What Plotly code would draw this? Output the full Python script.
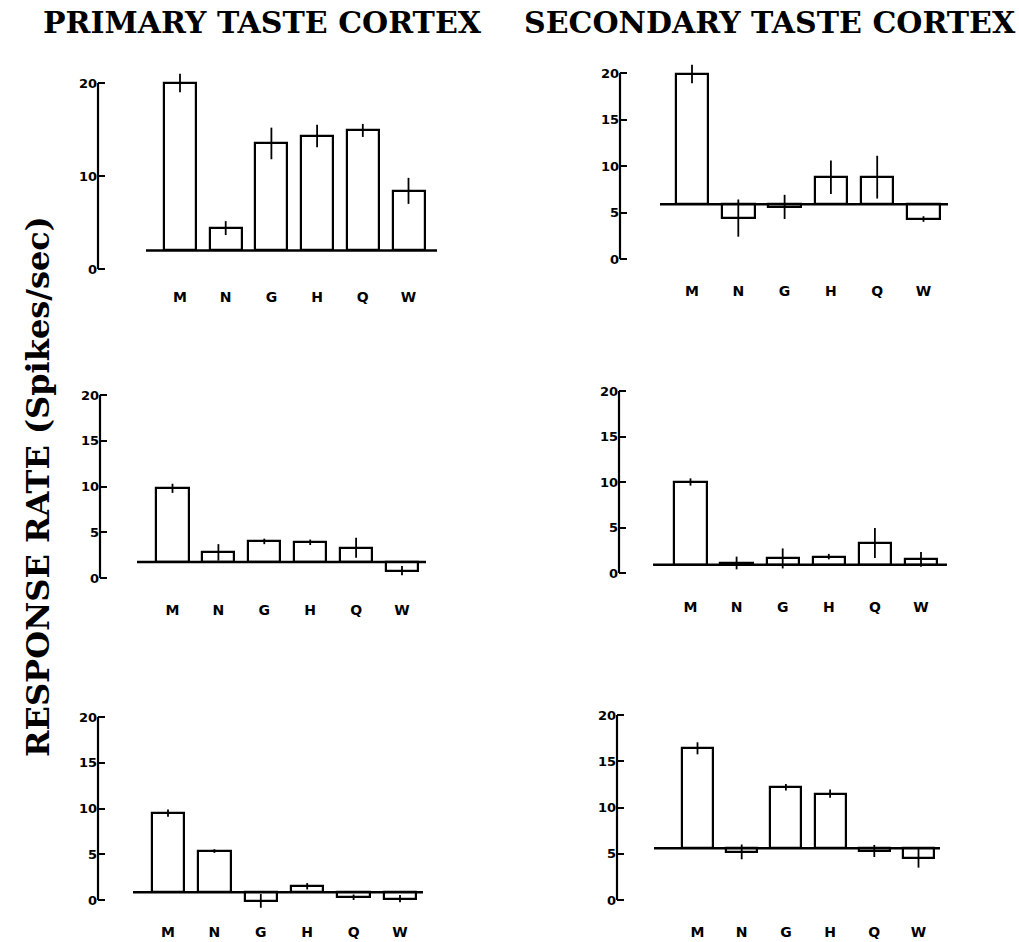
import plotly.graph_objects as go

# ---------------- data ----------------
categories = ["M", "N", "G", "H", "Q", "W"]

# Primary taste cortex (rows 1-3)
p1_baseline = 2.0
p1_values = [20.0, 4.4, 13.5, 14.3, 14.9, 8.4]
p1_errors = [1.0, 0.75, 1.7, 1.2, 0.7, 1.4]

p3_baseline = 1.75
p3_values = [9.8, 2.8, 4.0, 3.9, 3.3, 0.8]
p3_errors = [0.5, 0.9, 0.3, 0.3, 1.1, 0.5]

p5_baseline = 0.85
p5_values = [9.5, 5.35, -0.1, 1.5, 0.3, 0.15]
p5_errors = [0.4, 0.2, 0.75, 0.35, 0.3, 0.4]

# Secondary taste cortex (rows 1-3)
p2_baseline = 5.9
p2_values = [19.9, 4.4, 5.6, 8.8, 8.8, 4.3]
p2_errors = [1.0, 2.0, 1.3, 1.8, 2.3, 0.3]

p4_baseline = 0.9
p4_values = [10.0, 1.1, 1.6, 1.8, 3.3, 1.5]
p4_errors = [0.4, 0.7, 1.1, 0.3, 1.65, 0.8]

p6_baseline = 5.6
p6_values = [16.4, 5.2, 12.2, 11.5, 5.3, 4.5]
p6_errors = [0.65, 0.8, 0.35, 0.45, 0.65, 1.0]

ticks_sparse = [0, 10, 20]
ticks_full = [0, 5, 10, 15, 20]

panels = [
    (p1_baseline, p1_values, p1_errors, ticks_sparse),
    (p2_baseline, p2_values, p2_errors, ticks_full),
    (p3_baseline, p3_values, p3_errors, ticks_full),
    (p4_baseline, p4_values, p4_errors, ticks_full),
    (p5_baseline, p5_values, p5_errors, ticks_full),
    (p6_baseline, p6_values, p6_errors, ticks_full),
]

# ---------------- layout geometry (pixels) ----------------
W, H = 1019, 942
geom = [
    dict(axis=98, y0=269, y20=83, m=180, step=45.7, label=299, bl=146, br=437),
    dict(axis=620, y0=259, y20=73, m=692, step=46.3, label=293, bl=660, br=948),
    dict(axis=100, y0=578, y20=395, m=172.5, step=45.9, label=612, bl=137, br=426),
    dict(axis=619, y0=573, y20=391, m=690.5, step=46.1, label=609, bl=653, br=947),
    dict(axis=98, y0=900, y20=717, m=168, step=46.4, label=934, bl=133, br=423),
    dict(axis=617, y0=900, y20=715, m=697.5, step=44.2, label=934, bl=654, br=940),
]

tick_font = dict(family="DejaVu Sans", size=13, color="black", weight="bold")
cat_font = dict(family="DejaVu Sans", size=14, color="black", weight="bold")

fig = go.Figure()
xpos = list(range(len(categories)))

for i, (base, vals, errs, tks) in enumerate(panels):
    g = geom[i]
    n = "" if i == 0 else str(i + 1)
    upp = 20.0 / (g["y0"] - g["y20"])
    top_px = g["y20"] - 20
    bot_px = g["label"] - 12
    right_px = g["br"] + 6
    xr = [(g["axis"] - g["m"]) / g["step"], (right_px - g["m"]) / g["step"]]
    yr = [-(bot_px - g["y0"]) * upp, 20 + (g["y20"] - top_px) * upp]
    xdom = [g["axis"] / W, right_px / W]
    ydom = [1 - bot_px / H, 1 - top_px / H]

    fig.add_trace(go.Bar(
        x=xpos, y=[v - base for v in vals], base=base, width=0.7,
        marker=dict(color="white", line=dict(color="black", width=2.2)),
        error_y=dict(type="data", array=errs, color="black", thickness=1.8, width=0),
        xaxis="x" + n, yaxis="y" + n, showlegend=False, hoverinfo="skip",
    ))
    fig.update_layout(**{
        "xaxis" + n: dict(domain=xdom, range=xr, anchor="y" + n, tickvals=xpos,
                          ticktext=categories, showgrid=False, zeroline=False,
                          showline=False, ticks="", tickfont=cat_font, fixedrange=True),
        "yaxis" + n: dict(domain=ydom, range=yr, anchor="x" + n, tickvals=tks,
                          ticks="inside", ticklen=7, tickwidth=2.2, tickcolor="black",
                          showgrid=False, zeroline=False, showline=False,
                          tickfont=tick_font, fixedrange=True),
    })
    # y axis spine spanning the tick range
    fig.add_shape(type="line", xref=f"x{n} domain", yref="y" + n,
                  x0=0, x1=0, y0=min(tks), y1=max(tks),
                  line=dict(color="black", width=2.2))
    # spontaneous-rate baseline
    fig.add_shape(type="line", xref="x" + n, yref="y" + n,
                  x0=(g["bl"] - g["m"]) / g["step"], x1=(g["br"] - g["m"]) / g["step"],
                  y0=base, y1=base, layer="above",
                  line=dict(color="black", width=2.5))

title_font = dict(family="DejaVu Serif", size=30, color="black", weight="bold")
fig.add_annotation(text="PRIMARY TASTE CORTEX", x=262 / W, y=1 - 23 / H,
                   xref="paper", yref="paper", showarrow=False, font=title_font,
                   xanchor="center", yanchor="middle")
fig.add_annotation(text="SECONDARY TASTE CORTEX", x=770 / W, y=1 - 23 / H,
                   xref="paper", yref="paper", showarrow=False, font=title_font,
                   xanchor="center", yanchor="middle")
fig.add_annotation(text="RESPONSE RATE (Spikes/sec)", x=38 / W, y=1 - 487 / H,
                   xref="paper", yref="paper", showarrow=False, textangle=-90,
                   font=dict(family="DejaVu Serif", size=32, color="black", weight="bold"),
                   xanchor="center", yanchor="middle")

fig.update_layout(width=W, height=H, margin=dict(l=0, r=0, t=0, b=0),
                  paper_bgcolor="white", plot_bgcolor="white", bargap=0)

fig.write_html("out.html")
